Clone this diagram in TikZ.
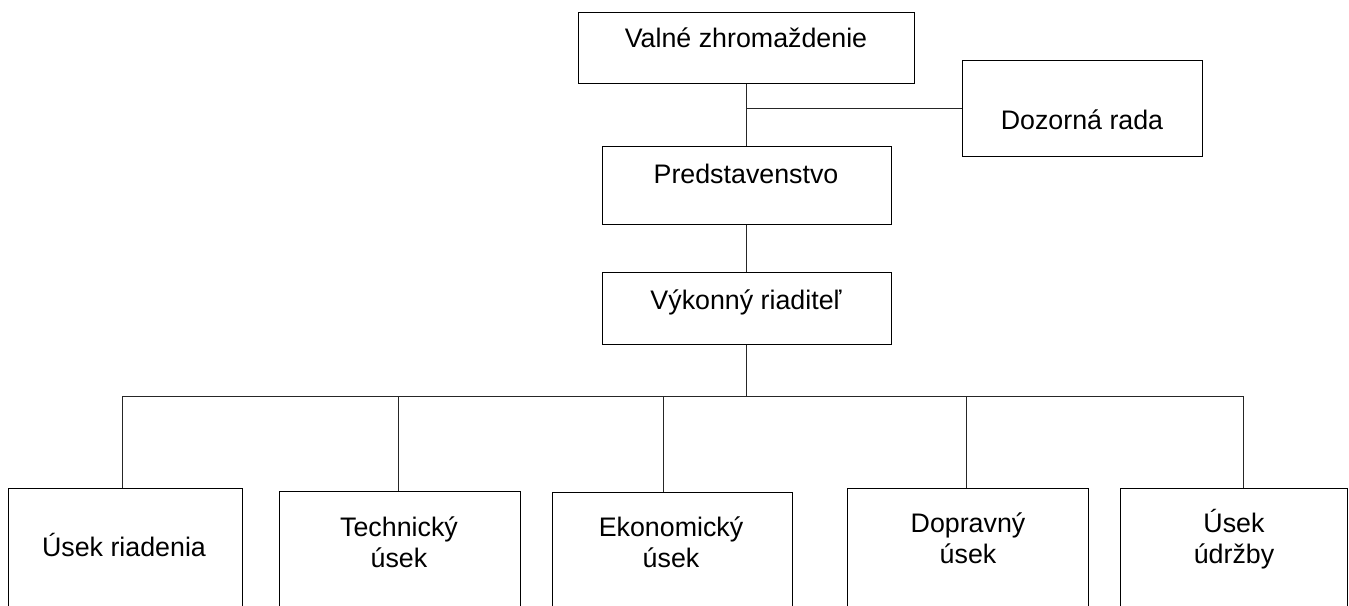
\documentclass[tikz,border=0pt]{standalone}
\usepackage{fontspec}
\setmainfont{Liberation Sans}
\begin{document}
\begin{tikzpicture}[x=1pt,y=-1pt,
  box/.style={draw=black,line width=1pt,inner sep=0pt,fill=none},
  lbl/.style={inner sep=0pt,anchor=base,align=center,font=\fontsize{26.8}{31}\selectfont},
  conn/.style={draw=black!85,line width=1pt}]
\useasboundingbox (0,0) rectangle (1349,605);
\clip (0,0) rectangle (1349,605);
% boxes
\node[box,minimum width=336pt,minimum height=71pt] (valne) at (746,47.5) {};
\node[box,minimum width=240pt,minimum height=96pt] (dozor) at (1082,108) {};
\node[box,minimum width=289pt,minimum height=78pt] (pred) at (746.5,185) {};
\node[box,minimum width=289pt,minimum height=72pt] (vyk) at (746.5,308) {};
\node[box,minimum width=234pt,minimum height=137pt] (riad) at (125,556.5) {};
\node[box,minimum width=241pt,minimum height=134pt] (tech) at (399.5,558) {};
\node[box,minimum width=240pt,minimum height=133pt] (ekon) at (672,558.5) {};
\node[box,minimum width=241pt,minimum height=137pt] (dopr) at (967.5,556.5) {};
\node[box,minimum width=227pt,minimum height=137pt] (udrz) at (1233.5,556.5) {};
% labels (base = baseline of last line)
\node[lbl] (tvalne) at (746,47) {Valné zhromaždenie};
\node[lbl] (tdozor) at (1082,129) {Dozorná rada};
\node[lbl] (tpred) at (746,183) {Predstavenstvo};
\node[lbl] (tvyk) at (746,309) {Výkonný riaditeľ};
\node[lbl] (triad) at (124,556) {Úsek riadenia};
\node[lbl] (ttech) at (399,567) {Technický\\úsek};
\node[lbl] (tekon) at (671,567) {Ekonomický\\úsek};
\node[lbl] (tdopr) at (968,563) {Dopravný\\úsek};
\node[lbl] (tudrz) at (1234,563) {Úsek\\údržby};
% connectors
\coordinate (j1) at (746,108);
\draw[conn] (valne.south) -- (valne.south |- pred.north);
\draw[conn] (j1) -- (dozor.west);
\draw[conn] (pred.south) -- (vyk.north);
\coordinate (bus) at (746.5,396);
\draw[conn] (vyk.south) -- (bus);
\coordinate (b1) at (122,396);
\coordinate (b2) at (398,396);
\coordinate (b3) at (663,396);
\coordinate (b4) at (966,396);
\coordinate (b5) at (1243,396);
\draw[conn] (b1) -- (b5);
\draw[conn] (b1) -- (b1 |- riad.north);
\draw[conn] (b2) -- (b2 |- tech.north);
\draw[conn] (b3) -- (b3 |- ekon.north);
\draw[conn] (b4) -- (b4 |- dopr.north);
\draw[conn] (b5) -- (b5 |- udrz.north);
\end{tikzpicture}
\end{document}
